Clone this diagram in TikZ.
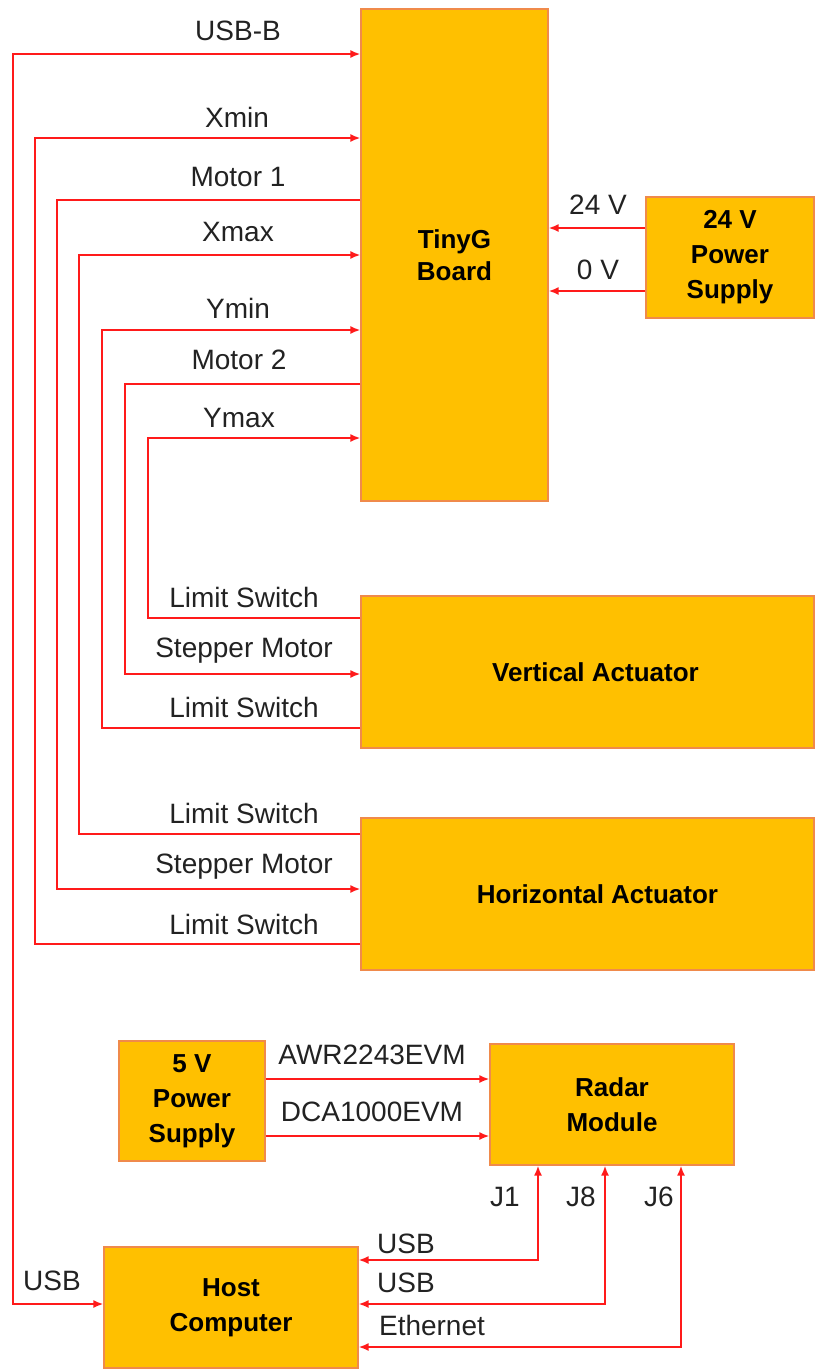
\documentclass[tikz,border=0pt]{standalone}
\usepackage{fontspec}
\setmainfont{Liberation Sans}
\usetikzlibrary{arrows.meta}

\definecolor{boxfill}{HTML}{FFC000}
\definecolor{boxline}{HTML}{F08A4B}
\definecolor{wirered}{HTML}{FF1A1A}
\definecolor{txt}{HTML}{222222}

\tikzset{
  blk/.style={draw=boxline, line width=0.6pt, fill=boxfill, align=center,
    font=\fontsize{13}{17.5}\selectfont\bfseries, inner sep=0pt},
  wire/.style={draw=wirered, line width=0.9pt, >={Latex[length=5pt,width=4pt]}},
  lbl/.style={text=txt, font=\fontsize{14}{16}\selectfont, inner sep=0pt}
}

\begin{document}
\begin{tikzpicture}[x=0.5pt, y=-0.5pt]
  \useasboundingbox (0,0) rectangle (815,1372);

  % blocks
  \node[blk, minimum width=93.5pt, minimum height=246pt,
        font=\fontsize{13}{16}\selectfont\bfseries] (tinyg) at (454.5,255) {TinyG\\Board};
  \node[blk, minimum width=84pt, minimum height=60.5pt] (ps24) at (730,257.5) {24 V\\Power\\Supply};
  \node[blk, minimum width=226.5pt, minimum height=76pt] (vact) at (587.5,672) {\hspace*{8pt}Vertical Actuator};
  \node[blk, minimum width=226.5pt, minimum height=76pt] (hact) at (587.5,894) {\hspace*{10pt}Horizontal Actuator};
  \node[blk, minimum width=73pt, minimum height=60pt] (ps5) at (192,1101) {5 V\\Power\\Supply};
  \node[blk, minimum width=122pt, minimum height=60.5pt] (radar) at (612,1104.5) {Radar\\Module};
  \node[blk, minimum width=127pt, minimum height=60.5pt] (host) at (231,1307.5) {Host\\Computer};

  % tinyg wiring
  \draw[wire, <->] (host.west |- 0,1304) -| (13,54) -- (tinyg.west |- 0,54);
  \draw[wire, ->] (hact.west |- 0,944) -| (35,138) -- (tinyg.west |- 0,138);
  \draw[wire, ->] (tinyg.west |- 0,200) -| (57,889) -- (hact.west |- 0,889);
  \draw[wire, ->] (hact.west |- 0,834) -| (79,255) -- (tinyg.west |- 0,255);
  \draw[wire, ->] (vact.west |- 0,728) -| (102,330) -- (tinyg.west |- 0,330);
  \draw[wire, ->] (tinyg.west |- 0,384) -| (125,674) -- (vact.west |- 0,674);
  \draw[wire, ->] (vact.west |- 0,618) -| (148,438) -- (tinyg.west |- 0,438);

  % power
  \draw[wire, ->] (ps24.west |- 0,228) -- (tinyg.east |- 0,228);
  \draw[wire, ->] (ps24.west |- 0,291) -- (tinyg.east |- 0,291);
  \draw[wire, ->] (ps5.east |- 0,1079) -- (radar.west |- 0,1079);
  \draw[wire, ->] (ps5.east |- 0,1136) -- (radar.west |- 0,1136);

  % radar to host
  \draw[wire, <->] (radar.south -| 538,0) |- (host.east |- 0,1260);
  \draw[wire, <->] (radar.south -| 605,0) |- (host.east |- 0,1304);
  \draw[wire, <->] (radar.south -| 681,0) |- (host.east |- 0,1347);

  % labels
  \node[lbl] (lusbb) at (238,31) {USB-B};
  \node[lbl] (lxmin) at (237,117) {Xmin};
  \node[lbl] (lmot1) at (238,177) {Motor 1};
  \node[lbl] (lxmax) at (238,232) {Xmax};
  \node[lbl] (lymin) at (238,308) {Ymin};
  \node[lbl] (lmot2) at (239,360) {Motor 2};
  \node[lbl] (lymax) at (239,418) {Ymax};
  \node[lbl] (l24v) at (598,205) {24 V};
  \node[lbl] (l0v) at (598,270) {0 V};
  \node[lbl] (lvls1) at (244,597) {Limit Switch};
  \node[lbl] (lvsm) at (244,651) {Stepper Motor};
  \node[lbl] (lvls2) at (244,707) {Limit Switch};
  \node[lbl] (lhls1) at (244,813) {Limit Switch};
  \node[lbl] (lhsm) at (244,867) {Stepper Motor};
  \node[lbl] (lhls2) at (244,924) {Limit Switch};
  \node[lbl] (lawr) at (372,1055) {AWR2243EVM};
  \node[lbl] (ldca) at (372,1112) {DCA1000EVM};
  \node[lbl] (lj1) at (505,1197) {J1};
  \node[lbl] (lj8) at (581,1197) {J8};
  \node[lbl] (lj6) at (659,1197) {J6};
  \node[lbl] (lusbh) at (52,1281) {USB};
  \node[lbl] (lusb1) at (406,1244) {USB};
  \node[lbl] (lusb2) at (406,1283) {USB};
  \node[lbl] (leth) at (432,1325) {Ethernet};
\end{tikzpicture}
\end{document}
